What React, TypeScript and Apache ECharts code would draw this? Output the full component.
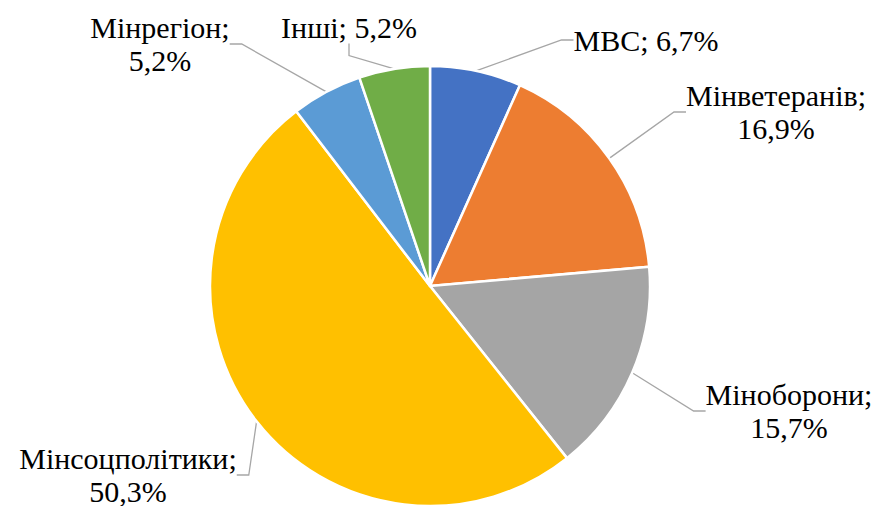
import React, { useEffect, useRef } from "react";
import * as echarts from "echarts";

const categories = ["МВС", "Мінветеранів", "Міноборони", "Мінсоцполітики", "Мінрегіон", "Інші"];
const values = [6.7, 16.9, 15.7, 50.3, 5.2, 5.2];
const colors = ["#4472C4", "#ED7D31", "#A5A5A5", "#FFC000", "#5B9BD5", "#70AD47"];
const twoLine = [false, true, true, true, true, false];

// label anchor positions (layout only)
const labelPos: [number, number][] = [
  [646, 40],
  [776, 112],
  [789, 411],
  [128, 475],
  [160, 44],
  [349, 27],
];

const FONT = "'Liberation Serif', 'Times New Roman', Tinos, serif";

export default function App() {
  const ref = useRef<HTMLDivElement>(null);
  useEffect(() => {
    if (!ref.current) return;
    const chart = echarts.init(ref.current, undefined, { renderer: "svg" });
    chart.setOption({
      animation: false,
      backgroundColor: "#ffffff",
      textStyle: { fontFamily: FONT },
      series: [
        {
          type: "pie",
          center: [430, 286],
          radius: 220,
          startAngle: 90,
          clockwise: true,
          data: categories.map((c, i) => ({
            name: c,
            value: values[i],
            itemStyle: { color: colors[i] },
          })),
          itemStyle: { borderColor: "#ffffff", borderWidth: 2.5 },
          label: {
            show: true,
            position: "outside",
            fontFamily: FONT,
            fontSize: 30,
            lineHeight: 33,
            color: "#000000",
            align: "center",
            overflow: "none",
            formatter: (p: any) => {
              const v = String(p.value.toFixed(1)).replace(".", ",") + "%";
              return p.name + ";" + (twoLine[p.dataIndex] ? "\n" : " ") + v;
            },
          },
          labelLine: {
            show: true,
            length: 15,
            length2: 12,
            lineStyle: { color: "#A6A6A6", width: 1.3 },
          },
          labelLayout: (params: any) => {
            const [x, y] = labelPos[params.dataIndex];
            return { x, y, align: "center", verticalAlign: "middle" };
          },
          emphasis: { disabled: true },
        },
      ],
    });
    return () => chart.dispose();
  }, []);
  return (
    <div
      ref={ref}
      style={{ position: "fixed", left: 0, top: 0, width: 880, height: 506 }}
    />
  );
}
